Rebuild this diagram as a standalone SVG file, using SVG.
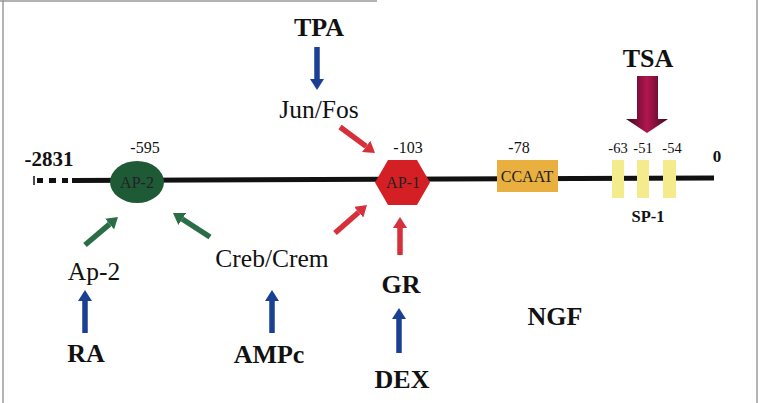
<svg xmlns="http://www.w3.org/2000/svg" width="760" height="403" viewBox="0 0 760 403">
<style>
text{font-family:"Liberation Serif","Times New Roman",serif;fill:#111;text-anchor:middle}
.b{font-weight:bold;font-size:26px}
.r{font-size:25.5px}
.s{font-size:16px}
.xs{font-size:14.5px}
.sb{font-weight:bold;font-size:16.5px}
.frame{stroke:#9a9a9a;stroke-width:1.5;fill:none}
.g{stroke:#2b6d47;stroke-width:5.5;fill:none}
.rd{stroke:#d6303a;stroke-width:5.5;fill:none}
.bl{stroke:#1b3f93;stroke-width:5.5;fill:none}
</style>
<defs>
<marker id="hg" viewBox="0 0 11 14" refX="0" refY="7" markerWidth="11" markerHeight="14" markerUnits="userSpaceOnUse" orient="auto"><path d="M0,0 L11,7 L0,14 z" fill="#2b6d47"/></marker>
<marker id="hr" viewBox="0 0 11 14" refX="0" refY="7" markerWidth="11" markerHeight="14" markerUnits="userSpaceOnUse" orient="auto"><path d="M0,0 L11,7 L0,14 z" fill="#d6303a"/></marker>
<marker id="hb" viewBox="0 0 11 14" refX="0" refY="7" markerWidth="11" markerHeight="14" markerUnits="userSpaceOnUse" orient="auto"><path d="M0,0 L11,7 L0,14 z" fill="#1b3f93"/></marker>
<linearGradient id="tsa" gradientUnits="userSpaceOnUse" x1="626" y1="0" x2="668" y2="0">
<stop offset="0" stop-color="#3e0820"/><stop offset="0.5" stop-color="#b2164f"/><stop offset="1" stop-color="#3e0820"/>
</linearGradient>
</defs>
<rect width="760" height="403" fill="#fff"/>
<g id="frame">
<line class="frame" x1="3" y1="0" x2="3" y2="403"/>
<line class="frame" x1="757" y1="0" x2="757" y2="403"/>
<line class="frame" x1="0" y1="1" x2="377" y2="1"/>
</g>
<g id="promoter">
<line x1="34" y1="176" x2="34" y2="185" stroke="#111" stroke-width="1.5"/>
<path d="M37,180.5 H43 M49,180.5 H56 M62,180.5 H68" stroke="#111" stroke-width="5"/>
<line x1="72" y1="180.5" x2="714" y2="178" stroke="#111" stroke-width="5"/>
<text class="b" x="49" y="166" style="font-size:21px">-2831</text>
<text class="sb" x="717" y="162" style="font-size:17px">0</text>
</g>
<g id="connectors">
<line class="g" x1="85" y1="245" x2="109.6" y2="224.1" marker-end="url(#hg)"/>
<line class="g" x1="210" y1="237" x2="182.2" y2="219" marker-end="url(#hg)"/>
<line class="rd" x1="340" y1="127" x2="366.2" y2="146.4" marker-end="url(#hr)"/>
<line class="rd" x1="335" y1="233" x2="358.7" y2="212.2" marker-end="url(#hr)"/>
<line class="rd" x1="400" y1="255" x2="400" y2="228" marker-end="url(#hr)"/>
<line class="bl" x1="317" y1="47" x2="317" y2="79" marker-end="url(#hb)"/>
<line class="bl" x1="85" y1="333" x2="85" y2="301" marker-end="url(#hb)"/>
<line class="bl" x1="272" y1="333" x2="272" y2="301" marker-end="url(#hb)"/>
<line class="bl" x1="399" y1="353" x2="399" y2="319" marker-end="url(#hb)"/>
<polygon points="637,76 658,76 658,119 668,119 647,133 626,119 637,119" fill="url(#tsa)"/>
</g>
<g id="ap2">
<ellipse cx="137" cy="182" rx="27" ry="21" fill="#1f5a37"/>
<text class="s" x="137" y="188" style="fill:#222">AP-2</text>
<text class="s" x="145" y="153">-595</text>
</g>
<g id="ap1">
<polygon points="375,182.5 388,160 417,160 430,182.5 417,205 388,205" fill="#d42024"/>
<text class="s" x="403" y="188" style="fill:#222">AP-1</text>
<text class="s" x="408" y="153">-103</text>
</g>
<g id="ccaat">
<rect x="497" y="160" width="61" height="32" fill="#e9b040"/>
<text class="s" x="527" y="182" style="fill:#222">CCAAT</text>
<text class="s" x="519" y="153">-78</text>
</g>
<g id="sp1">
<rect x="612" y="160" width="12" height="38" fill="#f4ec8c"/>
<rect x="637" y="160" width="12" height="38" fill="#f4ec8c"/>
<rect x="663" y="160" width="13" height="38" fill="#f4ec8c"/>
<text class="xs" x="618" y="153">-63</text>
<text class="xs" x="643" y="153">-51</text>
<text class="xs" x="672" y="153">-54</text>
<text class="sb" x="648" y="222">SP-1</text>
</g>
<g id="tpa"><text class="b" x="319" y="36">TPA</text></g>
<g id="junfos"><text class="r" x="319" y="118">Jun/Fos</text></g>
<g id="tsa-label"><text class="b" x="648" y="67">TSA</text></g>
<g id="ap2-factor"><text class="r" x="94" y="280">Ap-2</text></g>
<g id="crebcrem"><text class="r" x="272" y="267">Creb/Crem</text></g>
<g id="gr"><text class="b" x="401" y="293">GR</text></g>
<g id="ra"><text class="b" x="86" y="362">RA</text></g>
<g id="ampc"><text class="b" x="269" y="363">AMPc</text></g>
<g id="dex"><text class="b" x="402" y="388">DEX</text></g>
<g id="ngf"><text class="b" x="555" y="325">NGF</text></g>
</svg>
